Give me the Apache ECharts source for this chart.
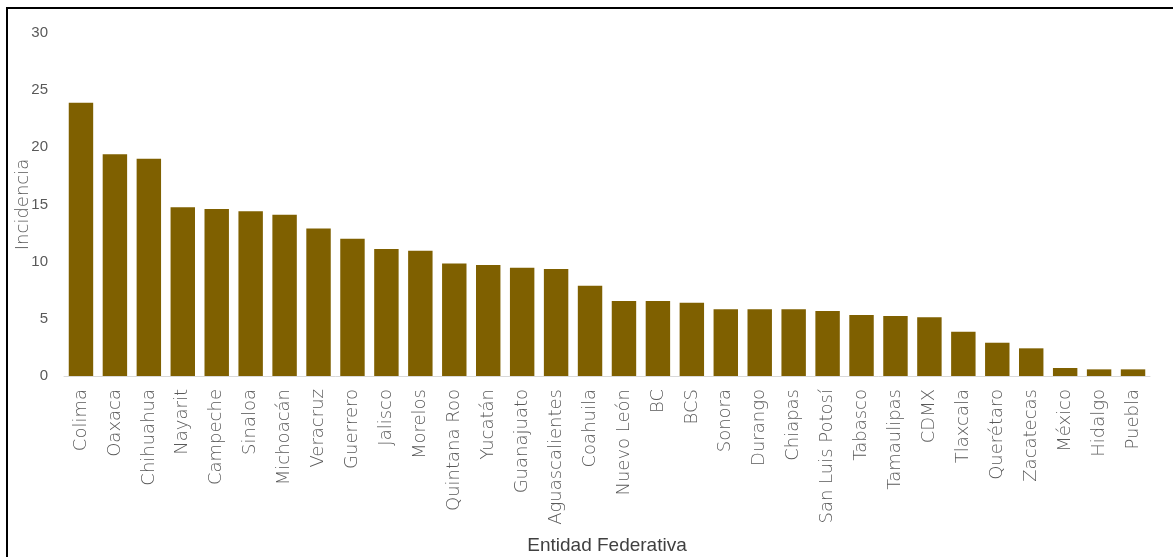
<!DOCTYPE html>
<html><head><meta charset="utf-8">
<script src="https://cdn.jsdelivr.net/npm/echarts@6/dist/echarts.min.js"></script>
<style>html,body{margin:0;padding:0;background:#fff}#c{width:1173px;height:557px}</style>
</head><body><div id="c"></div>
<script>
const categories = ["Colima","Oaxaca","Chihuahua","Nayarit","Campeche","Sinaloa","Michoacán","Veracruz","Guerrero","Jalisco","Morelos","Quintana Roo","Yucatán","Guanajuato","Aguascalientes","Coahuila","Nuevo León","BC","BCS","Sonora","Durango","Chiapas","San Luis Potosí","Tabasco","Tamaulipas","CDMX","Tlaxcala","Querétaro","Zacatecas","México","Hidalgo","Puebla"];
const incidencia = [23.9,19.4,19.0,14.75,14.6,14.4,14.1,12.9,12.0,11.1,10.95,9.85,9.7,9.47,9.35,7.9,6.56,6.56,6.4,5.83,5.83,5.83,5.68,5.33,5.24,5.13,3.87,2.91,2.42,0.7,0.58,0.58];
const yTicks = {min:0, max:30, interval:5};
const xTitle = "Entidad Federativa";
const yTitle = "Incidencia";

const chart = echarts.init(document.getElementById('c'));
chart.setOption({
  animation:false,
  graphic:[{type:'rect',shape:{x:7,y:8,width:1200,height:600},style:{fill:'none',stroke:'#000',lineWidth:2}}],
  grid:{left:64,right:23,top:33,bottom:181,containLabel:false,outerBoundsMode:'none'},
  xAxis:{type:'category',data:categories,
    axisLine:{lineStyle:{color:'#d9d9d9',width:1}},axisTick:{show:false},
    axisLabel:{rotate:90,interval:0,margin:13,fontFamily:'DejaVu Sans',fontSize:18,fontWeight:300,color:'#595959'},
    name:xTitle,nameLocation:'middle',nameGap:160,nameMoveOverlap:false,
    nameTextStyle:{fontFamily:'Liberation Sans Narrow, Liberation Sans',fontSize:19,color:'#404040'}},
  yAxis:{type:'value',min:yTicks.min,max:yTicks.max,interval:yTicks.interval,
    axisLine:{show:false},axisTick:{show:false},splitLine:{show:false},
    axisLabel:{margin:16,fontFamily:'Liberation Sans',fontSize:15,color:'#595959'},
    name:yTitle,nameLocation:'middle',nameGap:32,nameMoveOverlap:false,
    nameTextStyle:{fontFamily:'DejaVu Sans',fontSize:18,fontWeight:300,color:'#595959'}},
  series:[{type:'bar',data:incidencia,barCategoryGap:'28%',itemStyle:{color:'#7f6000'}}]
});
</script></body></html>
